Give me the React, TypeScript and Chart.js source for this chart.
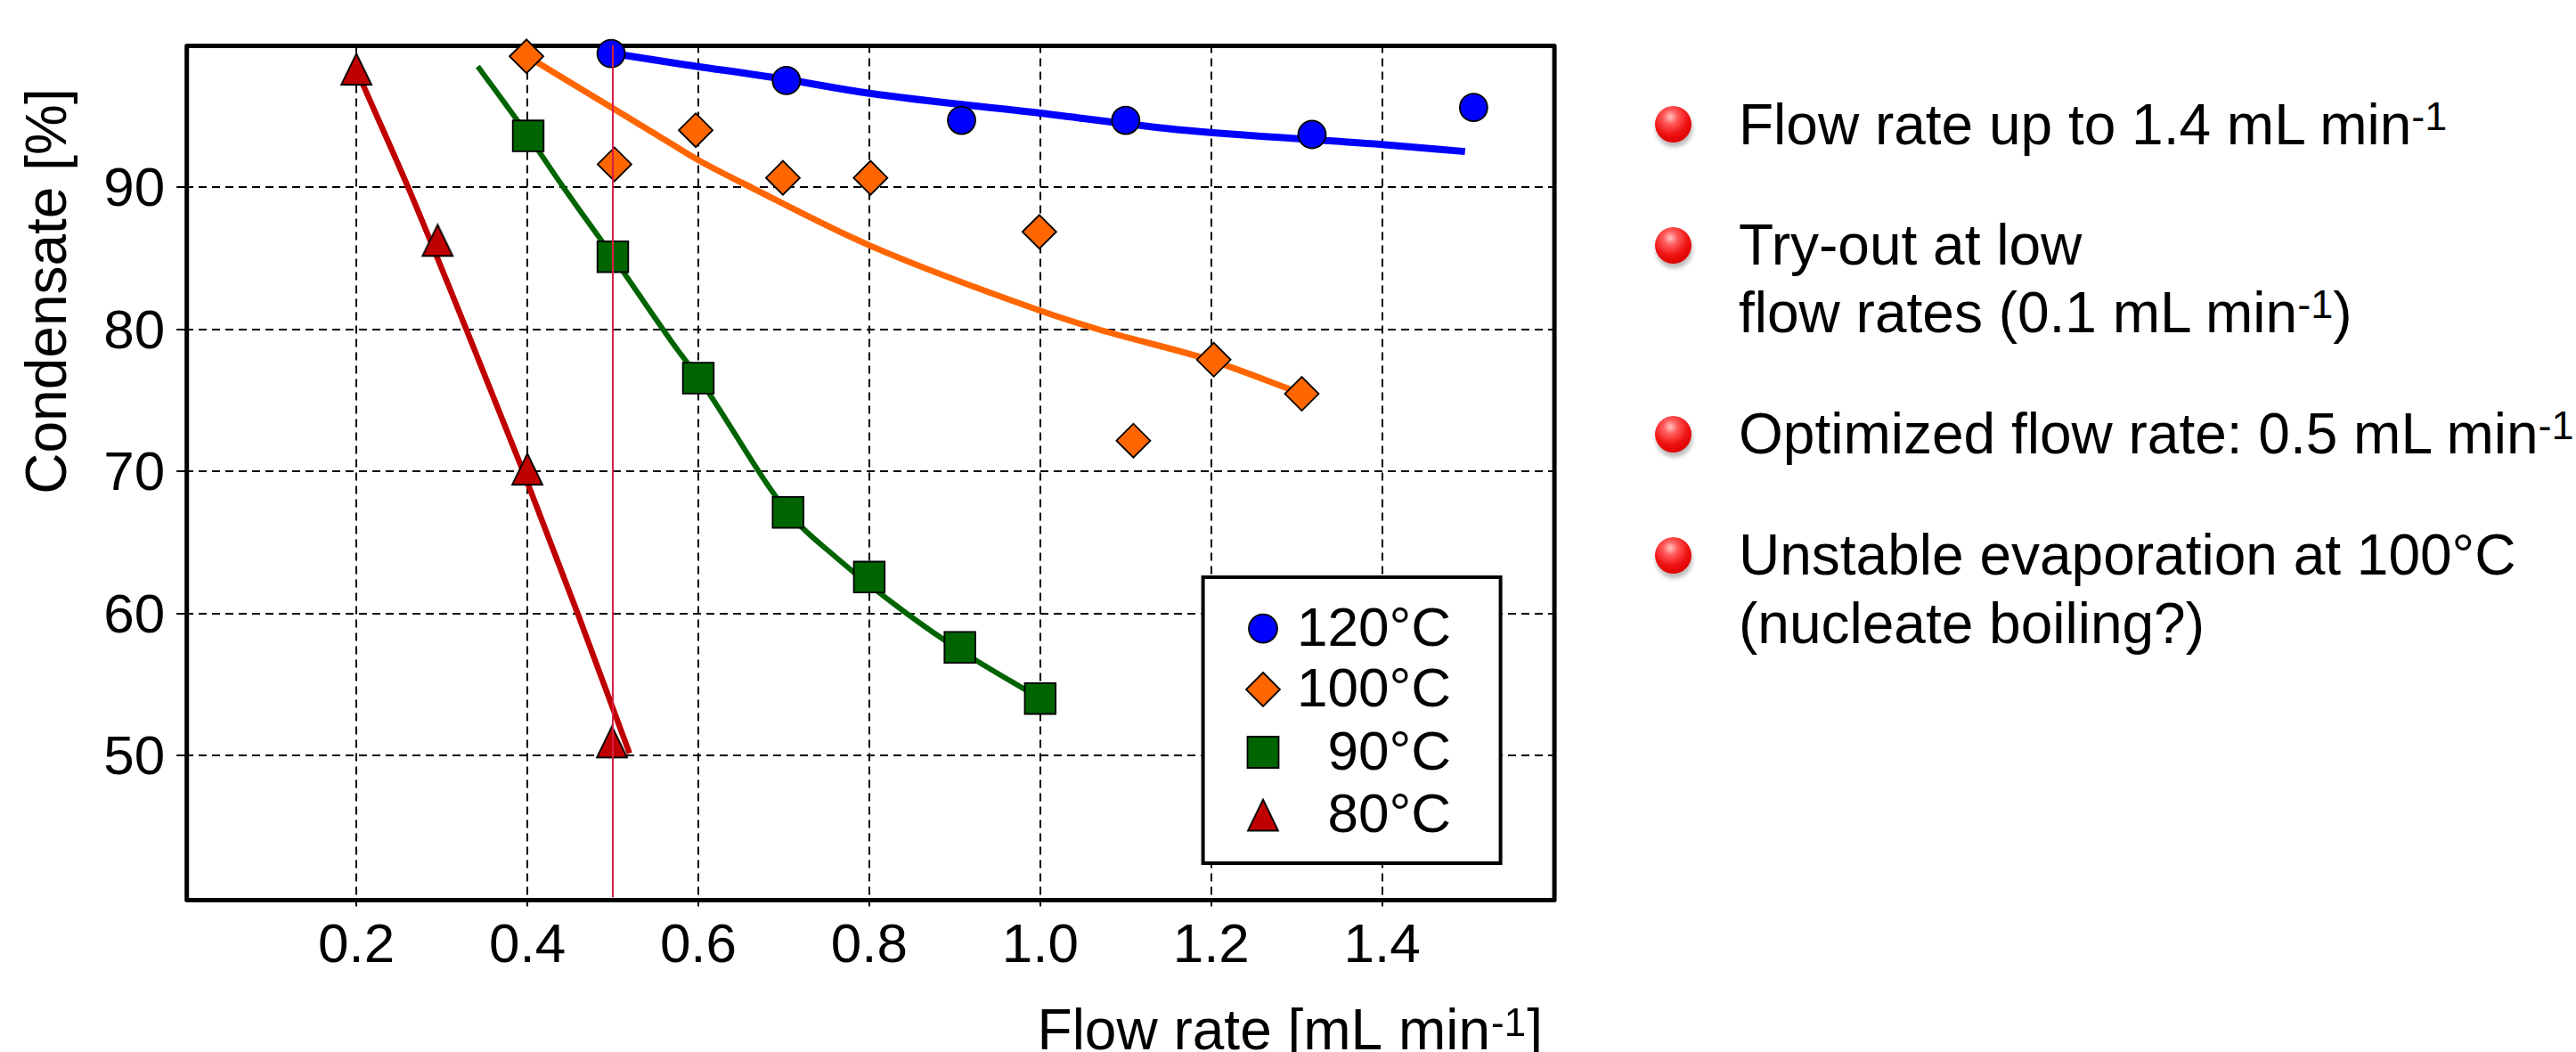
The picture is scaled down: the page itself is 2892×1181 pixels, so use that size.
import React, { useEffect, useRef } from 'react';
import { Chart, registerables } from 'chart.js';

Chart.register(...registerables);

const FONT = "'Liberation Sans', Arial, Helvetica, sans-serif";

// ---- data ----
// 120 °C measured points
const x120 = [0.498, 0.703, 0.908, 1.1, 1.318, 1.507];
const y120 = [99.4, 97.5, 94.7, 94.7, 93.7, 95.6];
// 120 °C fitted curve
const fitX120 = [0.5, 0.575, 0.7, 0.8, 1.0, 1.16, 1.4, 1.497];
const fitY120 = [99.4, 98.7, 97.6, 96.6, 95.2, 94.05, 93.0, 92.5];

// 100 °C measured points
const x100 = [0.399, 0.502, 0.597, 0.699, 0.8015, 0.999, 1.109, 1.203, 1.306];
const y100 = [99.2, 91.6, 94.0, 90.65, 90.65, 86.85, 72.15, 77.85, 75.45];
// 100 °C fitted curve
const fitX100 = [0.4, 0.5, 0.575, 0.6, 0.661, 0.8, 1.0, 1.067, 1.2, 1.3];
const fitY100 = [99.2, 95.55, 92.8, 91.9, 90.0, 85.9, 81.3, 80.0, 77.8, 75.6];

// 90 °C measured points
const x90 = [0.401, 0.5, 0.6, 0.705, 0.8, 0.906, 1.0];
const y90 = [93.6, 85.1, 76.55, 67.1, 62.55, 57.6, 54.0];
// 90 °C fitted curve
const fitX90 = [0.342, 0.4, 0.442, 0.5, 0.575, 0.6, 0.705, 0.76, 0.8435, 0.906, 1.0];
const fitY90 = [98.5, 93.7, 90.0, 85.1, 78.6, 76.6, 67.1, 64.0, 60.0, 57.4, 54.0];

// 80 °C measured points
const x80 = [0.2, 0.295, 0.4, 0.499];
const y80 = [98.3, 86.25, 70.15, 50.95];
// 80 °C fitted curve
const fitX80 = [0.207, 0.2604, 0.3285, 0.395, 0.4588, 0.5195];
const fitY80 = [97.3, 90.0, 80.0, 70.0, 60.0, 50.15];

// optimized flow rate marker line
const optX = [0.5, 0.5];
const optY = [40, 100];

const legendLabels = ['120°C', '100°C', '90°C', '80°C'];

const xTickMin = 0;
const xTickMax = 1.6;
const yTickMin = 40;
const yTickMax = 100;

const BLUE = '#0000FF';
const ORANGE = '#FF6600';
const GREEN = '#006400';
const RED = '#C00000';

const pts = (xs: number[], ys: number[]) => xs.map((x, i) => ({ x, y: ys[i] }));

function makeTriangle(w: number, h: number, fill: string) {
  const lw = 1.8;
  const c = document.createElement('canvas');
  const pad = 2;
  c.width = Math.ceil(w + 2 * pad);
  c.height = Math.ceil(h + 2 * pad);
  const ctx = c.getContext('2d')!;
  ctx.beginPath();
  ctx.moveTo(c.width / 2, pad);
  ctx.lineTo(c.width - pad, c.height - pad);
  ctx.lineTo(pad, c.height - pad);
  ctx.closePath();
  ctx.fillStyle = fill;
  ctx.fill();
  ctx.lineWidth = lw;
  ctx.strokeStyle = '#000';
  ctx.lineJoin = 'miter';
  ctx.stroke();
  return c;
}

const hidden = 'rgba(0,0,0,0)';

export default function App() {
  const ref = useRef<HTMLCanvasElement>(null);

  useEffect(() => {
    document.body.style.margin = '0';
    document.body.style.overflow = 'hidden';
    const tri = makeTriangle(34, 35, RED);

    const framePlugin = {
      id: 'frame',
      beforeDatasetsDraw(chart: any) {
        const { ctx, chartArea: a } = chart;
        ctx.save();
        ctx.lineWidth = 5;
        ctx.strokeStyle = '#000';
        ctx.lineJoin = 'round';
        ctx.strokeRect(a.left + 1.5, a.top + 1, a.right - a.left, a.bottom - a.top + 2);
        ctx.restore();
      },
    };

    const legendPlugin = {
      id: 'boxLegend',
      afterDatasetsDraw(chart: any) {
        const { ctx, chartArea: a } = chart;
        const x0 = a.right - 393;
        const x1 = a.right - 59;
        const y0 = a.bottom - 359.5;
        const y1 = a.bottom - 38.5;
        ctx.save();
        ctx.fillStyle = '#fff';
        ctx.fillRect(x0, y0, x1 - x0, y1 - y0);
        ctx.lineWidth = 4;
        ctx.strokeStyle = '#000';
        ctx.strokeRect(x0, y0, x1 - x0, y1 - y0);
        const mx = x0 + 67.4;
        const tx = x0 + 278.4;
        const rows = [57.6, 126, 196.5, 267];
        ctx.lineWidth = 1.8;
        rows.forEach((dy, i) => {
          const y = y0 + dy;
          ctx.beginPath();
          if (i === 0) {
            ctx.arc(mx, y, 16, 0, Math.PI * 2);
            ctx.fillStyle = BLUE;
            ctx.fill();
            ctx.stroke();
          } else if (i === 1) {
            ctx.moveTo(mx, y - 19);
            ctx.lineTo(mx + 19, y);
            ctx.lineTo(mx, y + 19);
            ctx.lineTo(mx - 19, y);
            ctx.closePath();
            ctx.fillStyle = ORANGE;
            ctx.fill();
            ctx.stroke();
          } else if (i === 2) {
            ctx.rect(mx - 17.5, y - 17.5, 35, 35);
            ctx.fillStyle = GREEN;
            ctx.fill();
            ctx.stroke();
          } else {
            ctx.drawImage(tri, mx - tri.width / 2, y - tri.height / 2);
          }
          ctx.fillStyle = '#000';
          ctx.font = `62px ${FONT}`;
          ctx.textAlign = 'right';
          ctx.textBaseline = 'middle';
          ctx.fillText(legendLabels[i], tx, y + 2);
        });
        ctx.restore();
      },
    };

    const titlePlugin = {
      id: 'axisTitles',
      afterDraw(chart: any) {
        const { ctx } = chart;
        ctx.save();
        ctx.fillStyle = '#000';
        // y title
        ctx.font = `64px ${FONT}`;
        ctx.translate(73.5, 327);
        ctx.rotate(-Math.PI / 2);
        ctx.textAlign = 'center';
        ctx.textBaseline = 'alphabetic';
        ctx.fillText('Condensate [%]', 0, 0);
        ctx.restore();

        // x title with superscript
        ctx.save();
        ctx.fillStyle = '#000';
        ctx.textBaseline = 'alphabetic';
        ctx.textAlign = 'left';
        const base = 1178;
        const right = 1732;
        ctx.font = `64px ${FONT}`;
        const wBr = ctx.measureText(']').width;
        const main = 'Flow rate [mL min';
        const wMain = ctx.measureText(main).width;
        ctx.font = `44px ${FONT}`;
        const wSup = ctx.measureText('-1').width;
        const xBr = right - wBr;
        const xSup = xBr - wSup - 1;
        const xMain = xSup - wMain - 1;
        ctx.font = `64px ${FONT}`;
        ctx.fillText(main, xMain, base);
        ctx.fillText(']', xBr, base);
        ctx.font = `44px ${FONT}`;
        ctx.fillText('-1', xSup, base - 15);
        ctx.restore();
      },
    };

    const lineDs = (label: string, xs: number[], ys: number[], color: string, width: number) => ({
      label,
      data: pts(xs, ys),
      showLine: true,
      borderColor: color,
      borderWidth: width,
      pointRadius: 0,
      pointHoverRadius: 0,
      cubicInterpolationMode: 'monotone' as const,
      fill: false,
      order: 3,
    });

    const markerDs = (label: string, xs: number[], ys: number[], color: string, style: any, radius: number) => ({
      label,
      data: pts(xs, ys),
      showLine: false,
      pointStyle: style,
      pointRadius: radius,
      pointHoverRadius: radius,
      backgroundColor: color,
      borderColor: '#000',
      pointBorderWidth: 1.8,
      clip: false as const,
      order: 2,
    });

    const chart = new Chart(ref.current!, {
      type: 'scatter',
      data: {
        datasets: [
          {
            label: 'optimum',
            data: pts(optX, optY),
            showLine: true,
            borderColor: '#D81E46',
            borderWidth: 2,
            pointRadius: 0,
            pointHoverRadius: 0,
            order: 0,
          } as any,
          markerDs('120°C', x120, y120, BLUE, 'circle', 15.5),
          markerDs('100°C', x100, y100, ORANGE, 'rectRot', 19),
          markerDs('90°C', x90, y90, GREEN, 'rect', 24.5),
          markerDs('80°C', x80, y80, RED, tri, 18),
          lineDs('fit 120', fitX120, fitY120, BLUE, 8),
          lineDs('fit 100', fitX100, fitY100, ORANGE, 7),
          lineDs('fit 90', fitX90, fitY90, GREEN, 6),
          lineDs('fit 80', fitX80, fitY80, RED, 6.5),
        ],
      },
      options: {
        responsive: false,
        devicePixelRatio: 1,
        animation: false,
        events: [],
        layout: { padding: { left: 0, top: 50.5, right: 56.4, bottom: 0 }, autoPadding: false } as any,
        plugins: {
          legend: { display: false },
          tooltip: { enabled: false },
          title: { display: false },
        },
        scales: {
          x: {
            type: 'linear',
            min: xTickMin,
            max: xTickMax,
            afterFit(scale: any) {
              scale.height = 173.5;
            },
            ticks: {
              stepSize: 0.2,
              autoSkip: false,
              maxRotation: 0,
              color: '#000',
              padding: 8,
              font: { family: FONT, size: 62 },
              callback: (v: any) => (v > 0.01 && v < 1.59 ? Number(v).toFixed(1) : ''),
            },
            grid: {
              color: (c: any) => (c.tick && (c.tick.value < 0.01 || c.tick.value > 1.59) ? hidden : '#000'),
              tickColor: (c: any) => (c.tick && (c.tick.value < 0.01 || c.tick.value > 1.59) ? hidden : '#000'),
              lineWidth: 2,
              tickLength: 10,
              tickWidth: 2,
            },
            border: { display: false, dash: [9, 6] },
          },
          y: {
            type: 'linear',
            min: yTickMin,
            max: yTickMax,
            afterFit(scale: any) {
              scale.width = 208.2;
            },
            ticks: {
              stepSize: 10,
              color: '#000',
              padding: 13,
              labelOffset: 4,
              font: { family: FONT, size: 62 },
              callback: (v: any) => (v > 41 && v < 99 ? String(v) : ''),
            },
            grid: {
              color: (c: any) => (c.tick && (c.tick.value < 41 || c.tick.value > 99) ? hidden : '#000'),
              tickColor: (c: any) => (c.tick && (c.tick.value < 41 || c.tick.value > 99) ? hidden : '#000'),
              lineWidth: 2,
              tickLength: 10,
              tickWidth: 2,
            },
            border: { display: false, dash: [9, 6] },
          },
        },
      },
      plugins: [framePlugin, legendPlugin, titlePlugin],
    } as any);

    return () => chart.destroy();
  }, []);

  const textStyle = (baseline: number): React.CSSProperties => ({
    position: 'absolute',
    left: 1952,
    top: baseline - 54.1,
    fontFamily: FONT,
    fontSize: 64,
    lineHeight: '64px',
    whiteSpace: 'nowrap',
    color: '#000',
  });
  const sup: React.CSSProperties = { fontSize: 45, position: 'relative', top: -16, lineHeight: 0 };
  const bullet = (cy: number): React.CSSProperties => ({
    position: 'absolute',
    left: 1878.8 - 20.5,
    top: cy - 20.5,
    width: 41,
    height: 41,
    borderRadius: '50%',
    background:
      'radial-gradient(circle at 42% 30%, #ffc4c4 0%, #ff5a5a 22%, #f01414 52%, #d80000 80%, #b00000 100%)',
    boxShadow: '1px 5px 5px rgba(0,0,0,0.28)',
  });

  return (
    <div style={{ position: 'relative', width: 2892, height: 1181, overflow: 'hidden', background: '#fff' }}>
      <canvas ref={ref} width={1800} height={1181} style={{ position: 'absolute', left: 0, top: 0, display: 'block' }} />
      <div style={bullet(139.5)} />
      <div style={bullet(275.5)} />
      <div style={bullet(487)} />
      <div style={bullet(623.5)} />
      <div style={textStyle(162.2)}>
        Flow rate up to 1.4 mL min<span style={sup}>-1</span>
      </div>
      <div style={textStyle(297.4)}>Try-out at low</div>
      <div style={textStyle(373.5)}>
        flow rates (0.1 mL min<span style={sup}>-1</span>)
      </div>
      <div style={textStyle(509.5)}>
        Optimized flow rate: 0.5 mL min<span style={sup}>-1</span>
      </div>
      <div style={textStyle(645.4)}>Unstable evaporation at 100°C</div>
      <div style={textStyle(722)}>(nucleate boiling?)</div>
    </div>
  );
}
